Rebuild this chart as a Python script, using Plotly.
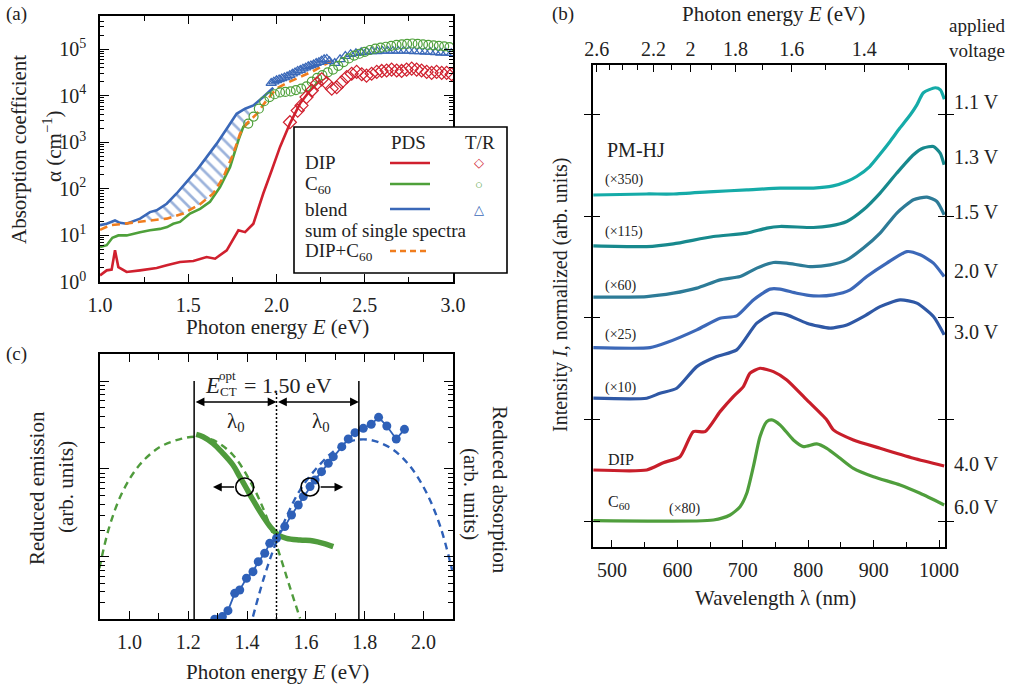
import numpy as np
import plotly.graph_objects as go

W, H = 1009, 685
FONT = "Liberation Serif, DejaVu Serif, serif"
TXT = "#222222"
RED, GREEN, BLUE, ORANGE = "#d0202e", "#4ea03a", "#3a68b8", "#f07d1e"

# ---------------- (a) absorption coefficient (log10 alpha) ----------------
dip_pds_E = [1.0, 1.038, 1.066, 1.085, 1.104, 1.151, 1.227, 1.321, 1.378, 1.453, 1.529, 1.604,
             1.652, 1.718, 1.784, 1.822, 1.869, 1.925, 1.973, 2.02, 2.076, 2.133, 2.19, 2.246]
dip_pds_log = [0.143, 0.25, 0.265, 0.68, 0.32, 0.215, 0.25, 0.30, 0.358, 0.43, 0.45, 0.536,
               0.50, 0.68, 1.11, 1.07, 1.25, 1.90, 2.40, 2.90, 3.40, 3.83, 4.11, 4.33]
c60_pds_E = [1.0, 1.038, 1.07, 1.104, 1.151, 1.19, 1.227, 1.283, 1.34, 1.38, 1.415, 1.453, 1.51,
             1.567, 1.623, 1.68, 1.737, 1.784, 1.812, 1.845]
c60_pds_log = [0.75, 0.79, 0.95, 1.0, 1.0, 1.04, 1.07, 1.11, 1.14, 1.18, 1.25, 1.29, 1.47,
               1.57, 1.72, 2.04, 2.47, 3.04, 3.33, 3.43]
blend_pds_E = [1.0, 1.038, 1.085, 1.113, 1.151, 1.19, 1.227, 1.283, 1.321, 1.378, 1.434, 1.491,
               1.548, 1.604, 1.661, 1.718, 1.774, 1.822, 1.869, 1.925, 1.982]
blend_pds_log = [1.22, 1.25, 1.32, 1.27, 1.25, 1.30, 1.36, 1.50, 1.54, 1.68, 1.90, 2.15,
                 2.40, 2.68, 2.97, 3.29, 3.61, 3.72, 3.79, 3.97, 4.17]
sum_E = [1.0, 1.057, 1.113, 1.19, 1.283, 1.378, 1.472, 1.567, 1.642, 1.699, 1.755, 1.793, 1.831,
         1.888, 1.944, 2.0, 2.057, 2.133, 2.209, 2.284, 2.322]
sum_log = [1.12, 1.22, 1.24, 1.27, 1.32, 1.36, 1.47, 1.67, 1.90, 2.25, 2.75, 3.18, 3.40,
           3.61, 3.90, 4.15, 4.27, 4.40, 4.53, 4.69, 4.76]
dip_tr_E = [2.076, 2.12, 2.142, 2.17, 2.2, 2.228, 2.256, 2.284, 2.313, 2.341, 2.369, 2.398, 2.426,
            2.454, 2.483, 2.51, 2.539, 2.568, 2.596, 2.624, 2.652, 2.681, 2.709, 2.737, 2.766,
            2.794, 2.822, 2.851, 2.879, 2.907, 2.936, 2.964, 2.992]
dip_tr_log = [3.43, 3.68, 3.79, 3.97, 4.11, 4.26, 4.35, 4.27, 4.15, 4.18, 4.29, 4.40, 4.47,
              4.51, 4.46, 4.43, 4.47, 4.51, 4.53, 4.54, 4.56, 4.54, 4.53, 4.56, 4.58,
              4.56, 4.54, 4.51, 4.49, 4.51, 4.49, 4.49, 4.46]
c60_tr_E = [1.84, 1.87, 1.90, 1.93, 1.96, 1.99, 2.02, 2.05, 2.08, 2.11, 2.14, 2.17, 2.20, 2.23,
            2.26, 2.29, 2.32, 2.35, 2.38, 2.41, 2.44, 2.47, 2.50, 2.53, 2.56, 2.59, 2.62, 2.65,
            2.68, 2.71, 2.74, 2.77, 2.80, 2.83, 2.86, 2.89, 2.92, 2.95, 2.98]
c60_tr_log = [3.40, 3.55, 3.72, 3.88, 3.97, 4.03, 4.07, 4.08, 4.09, 4.12, 4.15, 4.20, 4.30, 4.38,
              4.44, 4.50, 4.56, 4.64, 4.72, 4.80, 4.86, 4.90, 4.94, 4.98, 5.01, 5.03, 5.05, 5.07,
              5.09, 5.10, 5.11, 5.12, 5.11, 5.10, 5.09, 5.08, 5.07, 5.06, 5.04]
blend_tr_E = [1.97, 1.985, 2.0, 2.015, 2.03, 2.045, 2.06, 2.075, 2.09, 2.105, 2.12, 2.135, 2.15,
              2.165, 2.18, 2.195, 2.21, 2.225, 2.24, 2.255, 2.27, 2.285, 2.30, 2.33, 2.36, 2.39,
              2.42, 2.45, 2.48, 2.51, 2.54, 2.57, 2.60, 2.63, 2.66, 2.69, 2.72, 2.75, 2.78, 2.81,
              2.84, 2.87, 2.90, 2.93, 2.96, 2.99]
blend_tr_log = [4.27, 4.30, 4.33, 4.35, 4.37, 4.39, 4.41, 4.44, 4.47, 4.50, 4.53, 4.55, 4.58,
                4.60, 4.63, 4.65, 4.67, 4.70, 4.72, 4.75, 4.78, 4.79, 4.74, 4.70, 4.78, 4.85,
                4.89, 4.91, 4.93, 4.94, 4.95, 4.95, 4.96, 4.96, 4.96, 4.96, 4.96, 4.96, 4.95, 4.95,
                4.94, 4.94, 4.93, 4.92, 4.92, 4.91]
a_ytick_exp = [0, 1, 2, 3, 4, 5]
a_xtick = [1.0, 1.5, 2.0, 2.5, 3.0]

# ---------------- (c) reduced emission / absorption (log10 arb. units) ----------------
em_E = [1.227, 1.25, 1.284, 1.318, 1.352, 1.375, 1.398, 1.42, 1.455, 1.483, 1.506, 1.534,
        1.58, 1.625, 1.659, 1.693]
em_log = [1.394, 1.367, 1.292, 1.178, 1.045, 0.913, 0.78, 0.648, 0.458, 0.326, 0.25, 0.212,
          0.193, 0.182, 0.155, 0.117]
em_fit_E = [0.898, 0.932, 0.977, 1.034, 1.102, 1.17, 1.227, 1.284, 1.352, 1.42, 1.466, 1.511,
            1.545, 1.58]
em_fit_log = [-0.129, 0.345, 0.742, 1.045, 1.246, 1.337, 1.367, 1.33, 1.159, 0.8, 0.458, 0.023,
              -0.337, -0.697]
ab_E = [1.29, 1.316, 1.335, 1.358, 1.375, 1.398, 1.42, 1.438, 1.46, 1.477, 1.5, 1.528, 1.551,
        1.574, 1.591, 1.614, 1.631, 1.653, 1.676, 1.693, 1.722, 1.744, 1.767, 1.795, 1.822,
        1.847, 1.875, 1.907, 1.935]
ab_log = [-0.708, -0.678, -0.61, -0.413, -0.375, -0.242, -0.167, -0.053, 0.042, 0.155, 0.212,
          0.345, 0.477, 0.591, 0.686, 0.8, 0.875, 0.97, 1.064, 1.14, 1.254, 1.341, 1.413, 1.462,
          1.508, 1.587, 1.489, 1.341, 1.451]
ab_fit_E = [1.42, 1.455, 1.489, 1.534, 1.58, 1.636, 1.693, 1.75, 1.795, 1.841, 1.898, 1.955,
            2.011, 2.057, 2.097]
ab_fit_log = [-0.678, -0.261, 0.08, 0.458, 0.761, 1.008, 1.197, 1.311, 1.337, 1.311, 1.216,
              1.027, 0.723, 0.345, -0.148]
E_CT = 1.50
lambda0 = 0.28
c_xtick = [1.0, 1.2, 1.4, 1.6, 1.8, 2.0]

# ---------------- (b) EL spectra (stacked, arb. units) ----------------
wl_11 = [471.5, 553, 594, 655, 706, 757, 808, 838, 859, 874, 894, 909, 925, 940, 956, 966, 976, 994, 1002, 1008]
I_11 = [3.21, 3.22, 3.22, 3.244, 3.26, 3.278, 3.278, 3.30, 3.343, 3.392, 3.49, 3.606, 3.737, 3.869,
        4.0, 4.098, 4.217, 4.266, 4.246, 4.153]
wl_13 = [471.5, 553.1, 593.8, 655, 706, 736.6, 756.9, 807.9, 833.4, 858.9, 884.3, 909.8, 935.4,
         960.8, 976, 991.3, 1001.6, 1007.7]
I_13 = [2.709, 2.702, 2.729, 2.801, 2.834, 2.884, 2.900, 2.890, 2.906, 2.949, 3.064, 3.229, 3.426,
        3.606, 3.672, 3.688, 3.623, 3.507]
wl_15 = [471.5, 553.1, 593.8, 629.6, 665.2, 695.8, 721.3, 746.7, 767.2, 802.8, 833.4, 858.9,
         884.3, 909.8, 935.4, 960.8, 981.3, 996.6, 1007.7]
I_15 = [2.204, 2.210, 2.243, 2.293, 2.374, 2.407, 2.490, 2.545, 2.539, 2.505, 2.522, 2.571,
        2.687, 2.834, 3.032, 3.163, 3.189, 3.146, 3.015]
wl_20 = [471.5, 558.2, 583.7, 629.6, 665.2, 690.7, 716.1, 741.6, 756.9, 782.5, 807.9, 838.4,
         864, 889.5, 920.1, 950.7, 971, 991.3, 1007.7]
I_20 = [1.707, 1.707, 1.757, 1.882, 1.997, 2.020, 2.177, 2.283, 2.283, 2.243, 2.217, 2.227,
        2.276, 2.407, 2.539, 2.653, 2.621, 2.539, 2.407]
wl_30 = [471.5, 553.1, 573.4, 599, 629.6, 660.1, 690.7, 721.3, 746.7, 767.2, 797.8, 833.4,
         858.9, 884.3, 909.8, 940.4, 965.9, 991.3, 1007.7]
I_30 = [1.209, 1.209, 1.258, 1.307, 1.520, 1.619, 1.685, 1.948, 2.046, 2.030, 1.948, 1.899,
        1.931, 2.013, 2.111, 2.177, 2.145, 2.013, 1.833]
wl_dip = [471.5, 553.1, 578.5, 604, 624.4, 642.3, 665.2, 685.5, 700.8, 711, 726.3, 746.7,
          767.2, 797.8, 828.3, 838.4, 869, 909.8, 960.8, 1007.7]
I_dip = [0.502, 0.502, 0.574, 0.633, 0.880, 0.880, 1.077, 1.225, 1.323, 1.455, 1.504, 1.471,
         1.389, 1.192, 0.995, 0.897, 0.798, 0.716, 0.618, 0.542]
wl_c60 = [471.5, 655, 680.5, 695.8, 706, 716.1, 726.3, 736.6, 744.2, 756.9, 777.3, 792.6,
          813, 828.3, 848.7, 869, 899.6, 940.4, 971, 1007.7]
I_c60 = [0.003, 0.01, 0.059, 0.141, 0.273, 0.535, 0.831, 0.978, 0.995, 0.946, 0.798, 0.732,
         0.759, 0.716, 0.618, 0.519, 0.436, 0.355, 0.273, 0.158]
b_xtick = [500, 600, 700, 800, 900, 1000]
b_top_E_major = [2.6, 2.2, 2.0, 1.8, 1.6, 1.4]
b_top_E_labels = ["2.6", "2.2", "2", "1.8", "1.6", "1.4"]
b_top_E_minor = [2.5, 2.4, 2.3, 2.1, 1.9, 1.7, 1.5, 1.3]
HC = 1239.84  # eV nm

el_series = [
    (wl_11, I_11, "#15aba8"), (wl_13, I_13, "#17898d"), (wl_15, I_15, "#2d7b97"),
    (wl_20, I_20, "#3c68b8"), (wl_30, I_30, "#2f58a5"), (wl_dip, I_dip, "#c81e2a"),
    (wl_c60, I_c60, "#4f9e3c"),
]

# ---------------- geometry helpers ----------------
def PX(x):
    return x / W

def PY(y):
    return 1 - y / H

fig = go.Figure()
L = lambda a: np.power(10.0, np.array(a))

# ---- (a) traces ----
hx, hy = [], []
for e, v in zip(blend_pds_E, blend_pds_log):
    if 1.2 <= e <= 1.87:
        hx.append(e); hy.append(v)
for e, v in reversed(list(zip(sum_E, sum_log))):
    if 1.2 <= e <= 1.87:
        hx.append(e); hy.append(v)
fig.add_trace(go.Scatter(x=hx, y=L(hy), xaxis="x", yaxis="y", mode="lines", fill="toself",
                         fillcolor="rgba(0,0,0,0)", line=dict(width=0, color=BLUE),
                         fillpattern=dict(shape="\\", fgcolor=BLUE, bgcolor="rgba(0,0,0,0)",
                                          size=9, solidity=0.3),
                         hoverinfo="skip"))
fig.add_trace(go.Scatter(x=c60_pds_E, y=L(c60_pds_log), xaxis="x", yaxis="y", mode="lines",
                         line=dict(color=GREEN, width=2.6)))
fig.add_trace(go.Scatter(x=blend_pds_E, y=L(blend_pds_log), xaxis="x", yaxis="y", mode="lines",
                         line=dict(color=BLUE, width=2.6)))
fig.add_trace(go.Scatter(x=sum_E, y=L(sum_log), xaxis="x", yaxis="y", mode="lines",
                         line=dict(color=ORANGE, width=2.6, dash="8px,5px")))
fig.add_trace(go.Scatter(x=dip_pds_E, y=L(dip_pds_log), xaxis="x", yaxis="y", mode="lines",
                         line=dict(color=RED, width=2.6)))
fig.add_trace(go.Scatter(x=blend_tr_E, y=L(blend_tr_log), xaxis="x", yaxis="y", mode="markers",
                         marker=dict(symbol="triangle-up-open", size=9, color=BLUE, line=dict(width=1.2))))
fig.add_trace(go.Scatter(x=c60_tr_E, y=L(c60_tr_log), xaxis="x", yaxis="y", mode="markers",
                         marker=dict(symbol="circle-open", size=9, color=GREEN, line=dict(width=1.2))))
fig.add_trace(go.Scatter(x=dip_tr_E, y=L(dip_tr_log), xaxis="x", yaxis="y", mode="markers",
                         marker=dict(symbol="diamond-open", size=10, color=RED, line=dict(width=1.2))))

# ---- (c) traces ----
fig.add_trace(go.Scatter(x=em_fit_E, y=L(em_fit_log), xaxis="x2", yaxis="y2", mode="lines",
                         line=dict(color="#4f9b3c", width=2.4, dash="7px,5px", shape="spline")))
fig.add_trace(go.Scatter(x=ab_fit_E, y=L(ab_fit_log), xaxis="x2", yaxis="y2", mode="lines",
                         line=dict(color="#2e60b8", width=2.4, dash="7px,5px", shape="spline")))
fig.add_trace(go.Scatter(x=em_E, y=L(em_log), xaxis="x2", yaxis="y2", mode="lines",
                         line=dict(color="#4f9b3c", width=5.5, shape="spline")))
fig.add_trace(go.Scatter(x=ab_E, y=L(ab_log), xaxis="x2", yaxis="y2", mode="lines+markers",
                         line=dict(color="#2e60b8", width=1.8),
                         marker=dict(symbol="circle", size=9, color="#2e60b8")))

# ---- (b) traces ----
for wl, I, col in el_series:
    fig.add_trace(go.Scatter(x=wl, y=I, xaxis="x3", yaxis="y3", mode="lines",
                             line=dict(color=col, width=3.2, shape="spline", smoothing=0.6)))
fig.add_trace(go.Scatter(x=[700], y=[0], xaxis="x4", yaxis="y3", mode="markers",
                         marker=dict(opacity=0), hoverinfo="skip"))

# ---------------- axes ----------------
tickfont = dict(family=FONT, size=20, color=TXT)
base = dict(showline=True, linecolor="black", linewidth=1.6, ticks="inside", tickcolor="black",
            tickwidth=1.3, showgrid=False, zeroline=False, tickfont=tickfont, automargin=False)

a_minor_y = [k * 10 ** n for n in range(0, 6) for k in range(2, 10) if np.log10(k * 10 ** n) <= 5.71]
c_minor_y = [k * 10.0 ** n for n in range(-1, 3) for k in range(2, 10)
             if -0.705 <= np.log10(k * 10.0 ** n) <= 2.307]

layout_axes = dict(
    xaxis=dict(base, domain=[PX(100), PX(453)], anchor="y", range=[1, 3], mirror="allticks",
               tickvals=a_xtick, ticktext=[f"{v:.1f}" for v in a_xtick], ticklen=8,
               minor=dict(tickvals=[1.25, 1.75, 2.25, 2.75], ticks="inside", ticklen=5,
                          tickcolor="black", tickwidth=1.2), ticklabelstandoff=4),
    yaxis=dict(base, domain=[PY(282), PY(16)], anchor="x", type="log", range=[0, 5.71],
               mirror="allticks", tickvals=[10 ** e for e in a_ytick_exp],
               ticktext=[f"10<sup>{e}</sup>" for e in a_ytick_exp], ticklen=9,
               minor=dict(tickvals=a_minor_y, ticks="inside", ticklen=4, tickcolor="black",
                          tickwidth=1.0), ticklabelstandoff=8),
    xaxis2=dict(base, domain=[PX(100), PX(453)], anchor="y2", range=[0.9, 2.1], mirror="allticks",
                tickvals=c_xtick, ticktext=[f"{v:.1f}" for v in c_xtick], ticklen=8,
                minor=dict(tickvals=[1.1, 1.3, 1.5, 1.7, 1.9], ticks="inside", ticklen=6,
                           tickcolor="black", tickwidth=1.2), ticklabelstandoff=4),
    yaxis2=dict(base, domain=[PY(619), PY(354)], anchor="x2", type="log", range=[-0.705, 2.307],
                mirror="allticks", tickvals=[1, 10, 100], showticklabels=False, ticklen=9,
                minor=dict(tickvals=c_minor_y, ticks="inside", ticklen=5, tickcolor="black",
                           tickwidth=1.0)),
    xaxis3=dict(base, domain=[PX(593), PX(945)], anchor="y3", range=[471, 1009], mirror=True,
                tickvals=b_xtick, ticktext=[str(v) for v in b_xtick], ticklen=7,
                minor=dict(tickvals=[550, 650, 750, 850, 950], ticks="inside", ticklen=5,
                           tickcolor="black", tickwidth=1.2), ticklabelstandoff=4),
    yaxis3=dict(base, domain=[PY(547), PY(65)], anchor="x3", range=[-0.256, 4.49],
                mirror="allticks", tickvals=[0, 1, 2, 3, 4], showticklabels=False, ticklen=7),
    xaxis4=dict(base, overlaying="x3", anchor="y3", side="top", range=[471, 1009], showline=False,
                tickvals=[HC / e for e in b_top_E_major], ticktext=b_top_E_labels, ticklen=7,
                minor=dict(tickvals=[HC / e for e in b_top_E_minor], ticks="inside", ticklen=5,
                           tickcolor="black", tickwidth=1.2), ticklabelstandoff=4),
)

# ---------------- annotations ----------------
ann = []

def text(s, x, y, size=20, xanchor="center", yanchor="middle", angle=0, color=TXT):
    ann.append(dict(text=s, x=PX(x), y=PY(y), xref="paper", yref="paper", showarrow=False,
                    xanchor=xanchor, yanchor=yanchor, textangle=angle,
                    font=dict(family=FONT, size=size, color=color)))

# panel labels
text("(a)", 16, 14, 19)
text("(b)", 563, 14, 19)
text("(c)", 16, 354, 19)
# (a) titles
text("Photon energy <i>E</i> (eV)", 277, 327, 21)
text("Absorption coefficient", 19, 150, 21, angle=-90)
text("α (cm<sup>−1</sup>)", 52, 146, 21, angle=-90)
# (a) legend texts
text("PDS", 408, 142, 19)
text("T/R", 480, 142, 19)
text("DIP", 303, 163, 19, xanchor="left")
text("C<sub>60</sub>", 303, 185, 19, xanchor="left")
text("blend", 303, 209, 19, xanchor="left")
text("sum of single spectra", 303, 230, 19, xanchor="left")
text("DIP+C<sub>60</sub>", 303, 252, 19, xanchor="left")
text("◇", 479, 163, 13, color=RED)
text("○", 479, 184, 13, color=GREEN)
text("△", 479, 209, 13, color=BLUE)
# (c) titles
text("Photon energy <i>E</i> (eV)", 277, 672, 21)
text("Reduced emission", 37, 488, 21, angle=-90)
text("(arb. units)", 66, 487, 21, angle=-90)
text("Reduced absorption", 500, 490, 21, angle=90)
text("(arb. units)", 471, 494, 21, angle=90)
text("<i>E</i>", 212, 385, 23)
text("opt", 227, 375, 13)
text("CT", 228, 391, 13)
text("= 1.50 eV", 242, 385, 22, xanchor="left")
text("λ<sub>0</sub>", 236, 422, 21)
text("λ<sub>0</sub>", 321, 422, 21)
# (b) texts
text("Photon energy <i>E</i> (eV)", 773, 14, 21)
text("Wavelength λ (nm)", 775, 598, 21)
text("Intensity <i>I</i>, normalized (arb. units)", 560, 295, 20, angle=-90)
text("applied<br>voltage", 1007, 38, 19, xanchor="right")
text("PM-HJ", 605, 150, 20, xanchor="left")
for lab, y in [("(×350)", 180), ("(×115)", 232), ("(×60)", 286), ("(×25)", 335), ("(×10)", 388)]:
    text(lab, 603, y, 14, xanchor="left")
text("DIP", 606, 459, 16, xanchor="left")
text("C<sub>60</sub>", 606, 502, 16, xanchor="left")
text("(×80)", 667, 509, 14, xanchor="left")
for lab, y in [("1.1 V", 102), ("1.3 V", 157), ("1.5 V", 212), ("2.0 V", 271), ("3.0 V", 332),
               ("4.0 V", 464), ("6.0 V", 507)]:
    text(lab, 952, y, 20, xanchor="left")

# (c) arrows
def arrow(tip, tail, ydom, both=False):
    ann.append(dict(x=tip, y=ydom, xref="x2", yref="y2 domain", ax=tail, ay=0, axref="x2",
                    ayref="pixel", showarrow=True, arrowhead=2, arrowsize=1.1, arrowwidth=1.6,
                    arrowcolor="black", arrowside="end+start" if both else "end", text="",
                    standoff=0, startstandoff=0))

arrow(E_CT, E_CT - lambda0, 0.819, both=True)
arrow(E_CT + lambda0, E_CT, 0.819, both=True)
arrow(1.284, 1.361, 0.498)
arrow(1.727, 1.645, 0.498)

# ---------------- shapes ----------------
shapes = []
# (a) legend box
shapes.append(dict(type="rect", xref="paper", yref="paper", x0=PX(294), x1=PX(507), y0=PY(273),
                   y1=PY(127), fillcolor="white", line=dict(color="black", width=1.6), layer="above"))
for y, col, dash in [(163, RED, "solid"), (184, GREEN, "solid"), (209, BLUE, "solid"),
                     (251, ORANGE, "6px,4px")]:
    shapes.append(dict(type="line", xref="paper", yref="paper", x0=PX(390), x1=PX(430), y0=PY(y),
                       y1=PY(y), line=dict(color=col, width=2.6, dash=dash), layer="above"))
# (c) vertical guide lines
for xv in [E_CT - lambda0, E_CT + lambda0]:
    shapes.append(dict(type="line", xref="x2", yref="y2 domain", x0=xv, x1=xv, y0=0, y1=0.898,
                       line=dict(color="black", width=1.5)))
shapes.append(dict(type="line", xref="x2", yref="y2 domain", x0=E_CT, x1=E_CT, y0=0, y1=0.853,
                   line=dict(color="black", width=1.5, dash="2px,2px")))
for xc in [1.392, 1.614]:
    shapes.append(dict(type="circle", xref="x2", yref="y2 domain", xsizemode="pixel",
                       ysizemode="pixel", xanchor=xc, yanchor=0.498, x0=-9, x1=9, y0=-9, y1=9,
                       line=dict(color="black", width=1.6)))

fig.update_layout(
    width=W, height=H, margin=dict(l=0, r=0, t=0, b=0, pad=0, autoexpand=False), showlegend=False,
    paper_bgcolor="white", plot_bgcolor="white", font=dict(family=FONT, color=TXT),
    annotations=ann, shapes=shapes, **layout_axes,
)

fig.write_html("out.html")
